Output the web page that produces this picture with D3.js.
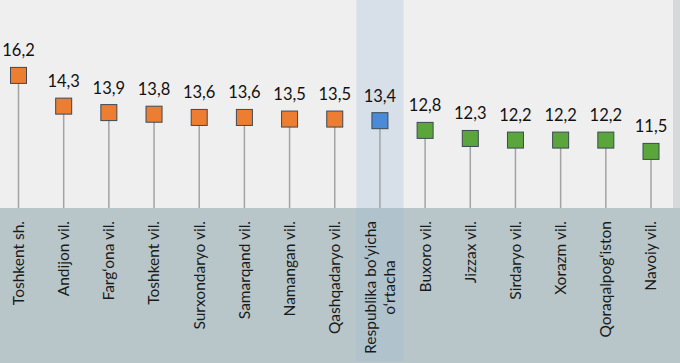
<!DOCTYPE html>
<html>
<head>
<meta charset="utf-8">
<script src="https://cdn.jsdelivr.net/npm/d3@7"></script>
<style>
  body { margin: 0; background: #b8c6c9; }
  svg { display: block; font-family: Lato, "Open Sans", sans-serif; }
</style>
</head>
<body>
<div id="chart"></div>
<script>
var regions = ["Toshkent sh.", "Andijon vil.", "Farg\u2018ona vil.", "Toshkent vil.", "Surxondaryo vil.",
  "Samarqand vil.", "Namangan vil.", "Qashqadaryo vil.", "Respublika bo\u2018yicha\no\u2018rtacha",
  "Buxoro vil.", "Jizzax vil.", "Sirdaryo vil.", "Xorazm vil.", "Qoraqalpog\u2018iston", "Navoiy vil."]
var values = [16.2, 14.3, 13.9, 13.8, 13.6, 13.6, 13.5, 13.5, 13.4, 12.8, 12.3, 12.2, 12.2, 12.2, 11.5]
var groups = ["high", "high", "high", "high", "high", "high", "high", "high", "avg",
  "low", "low", "low", "low", "low", "low"]

var width = 680, height = 363
var plotBottom = 208

var colors = { high: "#ed7d31", avg: "#4a8ad6", low: "#5ba63c" }

var svg = d3.select("#chart").append("svg")
  .attr("width", width)
  .attr("height", height)

// background: plot area + bottom band
svg.append("rect").attr("width", width).attr("height", height).attr("fill", "#b8c6c9")
svg.append("rect").attr("width", 673).attr("height", plotBottom).attr("fill", "#efefef")
svg.append("rect").attr("x", 673).attr("width", 7).attr("height", plotBottom).attr("fill", "#d5d9da")

var x = d3.scalePoint()
  .domain(regions)
  .range([18.5, 651])

var y = d3.scaleLinear()
  .domain([8, 18])
  .range([plotBottom, 46.3])

// highlight column for the average
var avgIdx = groups.indexOf("avg")
svg.append("rect")
  .attr("x", x(regions[avgIdx]) - 23.5)
  .attr("width", 47)
  .attr("y", 0)
  .attr("height", 361)
  .attr("fill", "#9fbcd8")
  .attr("opacity", 0.3)

var g = svg.selectAll(".pt")
  .data(values)
  .enter().append("g")
  .attr("class", "pt")

g.append("line")
  .attr("x1", function(d, i) { return x(regions[i]) })
  .attr("x2", function(d, i) { return x(regions[i]) })
  .attr("y1", function(d) { return y(d) })
  .attr("y2", plotBottom)
  .attr("stroke", "#a3a3a3")
  .attr("stroke-width", 1.5)

g.append("rect")
  .attr("x", function(d, i) { return x(regions[i]) - 8 })
  .attr("y", function(d) { return y(d) - 8 })
  .attr("width", 16)
  .attr("height", 16)
  .attr("fill", function(d, i) { return colors[groups[i]] })
  .attr("stroke", "#3b4a54")
  .attr("stroke-width", 1)

g.append("text")
  .attr("x", function(d, i) { return x(regions[i]) })
  .attr("y", function(d) { return y(d) - 19 })
  .attr("text-anchor", "middle")
  .attr("font-size", 16.5)
  .attr("fill", "#111")
  .text(function(d) { return d.toFixed(1).replace(".", ",") })

// category labels, rotated, top aligned
var labelTop = 221
regions.forEach(function(name, i) {
  var lines = name.split("\n")
  var lg = svg.append("g")
  var texts = lines.map(function(line, j) {
    return lg.append("text")
      .attr("font-size", 15.5)
      .attr("fill", "#1a1a1a")
      .attr("text-anchor", "middle")
      .text(line)
  })
  var maxLen = d3.max(texts, function(t) { return t.node().getComputedTextLength() })
  var cy = labelTop + maxLen / 2
  var off = (lines.length - 1) * 9.5
  texts.forEach(function(t, j) {
    var cx = x(name) - off + j * 19
    t.attr("transform", "translate(" + cx + "," + cy + ") rotate(-90)")
      .attr("dy", "0.35em")
  })
})
</script>
</body>
</html>
